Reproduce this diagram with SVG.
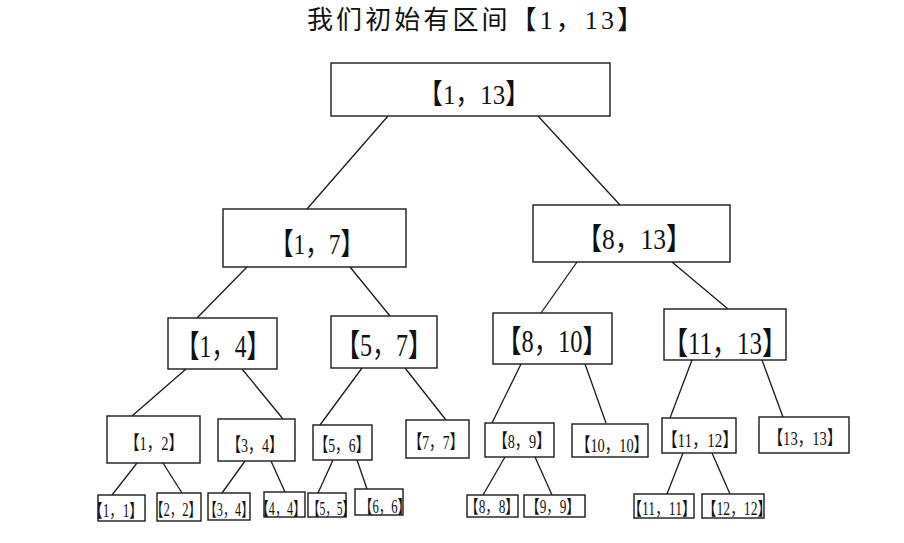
<svg xmlns="http://www.w3.org/2000/svg" width="904" height="543" viewBox="0 0 904 543">
<style>
.bg{fill:#fff}
.n rect{fill:#fff;stroke:#1a1a1a;stroke-width:1.4}
.e line{stroke:#1a1a1a;stroke-width:1.3}
text{font-family:"Liberation Serif","Noto Sans CJK SC",serif;fill:#111;text-anchor:middle}
.t{font-size:26px}
.l0{font-size:28px}
.l1{font-size:30px}
.l3{font-size:31px}
.l4{font-size:19px}
.lf{font-size:18px}
</style>
<rect class="bg" x="0" y="0" width="904" height="543"/>
<text id="title" class="t" x="475" y="29" textLength="336">我们初始有区间【1，13】</text>
<g id="edges" class="e">
<line x1="388" y1="116" x2="307" y2="209"/>
<line x1="538" y1="116" x2="620" y2="205"/>
<line x1="247" y1="267" x2="197" y2="318"/>
<line x1="350" y1="267" x2="390" y2="316"/>
<line x1="577" y1="262" x2="541" y2="313"/>
<line x1="672" y1="262" x2="728" y2="309"/>
<line x1="186" y1="369" x2="132" y2="416"/>
<line x1="242" y1="369" x2="283" y2="419"/>
<line x1="362" y1="368" x2="320" y2="425"/>
<line x1="405" y1="368" x2="446" y2="420"/>
<line x1="521" y1="364" x2="492" y2="423"/>
<line x1="585" y1="364" x2="606" y2="423"/>
<line x1="692" y1="360" x2="670" y2="418"/>
<line x1="762" y1="360" x2="783" y2="417"/>
<line x1="137" y1="463" x2="112" y2="495"/>
<line x1="163" y1="463" x2="182" y2="493"/>
<line x1="245" y1="461" x2="222" y2="493"/>
<line x1="271" y1="461" x2="285" y2="492"/>
<line x1="333" y1="460" x2="318" y2="493"/>
<line x1="357" y1="460" x2="367" y2="489"/>
<line x1="505" y1="457" x2="483" y2="495"/>
<line x1="535" y1="457" x2="552" y2="495"/>
<line x1="683" y1="453" x2="667" y2="494"/>
<line x1="712" y1="453" x2="730" y2="494"/>
</g>
<g id="n1_13" class="n"><rect x="331" y="63" width="279" height="53"/><text class="l0" x="474" y="104" textLength="112" lengthAdjust="spacingAndGlyphs">【1，13】</text></g>
<g id="n1_7" class="n"><rect x="223" y="209" width="183" height="58"/><text class="l1" x="317" y="254" textLength="94" lengthAdjust="spacingAndGlyphs">【1，7】</text></g>
<g id="n8_13" class="n"><rect x="533" y="205" width="197" height="57"/><text class="l1" x="634" y="249" textLength="115" lengthAdjust="spacingAndGlyphs">【8，13】</text></g>
<g id="n1_4" class="n"><rect x="168" y="318" width="109" height="51"/><text class="l3" x="223" y="357" textLength="94" lengthAdjust="spacingAndGlyphs">【1，4】</text></g>
<g id="n5_7" class="n"><rect x="331" y="316" width="106" height="52"/><text class="l3" x="384" y="356" textLength="96" lengthAdjust="spacingAndGlyphs">【5，7】</text></g>
<g id="n8_10" class="n"><rect x="493" y="313" width="119" height="51"/><text class="l3" x="552" y="352" textLength="110" lengthAdjust="spacingAndGlyphs">【8，10】</text></g>
<g id="n11_13" class="n"><rect x="664" y="309" width="122" height="51"/><text class="l3" x="725" y="354" textLength="124" lengthAdjust="spacingAndGlyphs">【11，13】</text></g>
<g id="n1_2" class="n"><rect x="107" y="416" width="93" height="47"/><text class="l4" x="154" y="450" textLength="58" lengthAdjust="spacingAndGlyphs">【1，2】</text></g>
<g id="n3_4" class="n"><rect x="218" y="419" width="77" height="42"/><text class="l4" x="255" y="452" textLength="56" lengthAdjust="spacingAndGlyphs">【3，4】</text></g>
<g id="n5_6" class="n"><rect x="313" y="425" width="59" height="35"/><text class="l4" x="342" y="452" textLength="55" lengthAdjust="spacingAndGlyphs">【5，6】</text></g>
<g id="n7_7" class="n"><rect x="406" y="420" width="63" height="38"/><text class="l4" x="436" y="449" textLength="55" lengthAdjust="spacingAndGlyphs">【7，7】</text></g>
<g id="n8_9" class="n"><rect x="485" y="423" width="69" height="34"/><text class="l4" x="522" y="448" textLength="57" lengthAdjust="spacingAndGlyphs">【8，9】</text></g>
<g id="n10_10" class="n"><rect x="572" y="424" width="76" height="33"/><text class="l4" x="612" y="452" textLength="72" lengthAdjust="spacingAndGlyphs">【10，10】</text></g>
<g id="n11_12" class="n"><rect x="662" y="418" width="74" height="35"/><text class="l4" x="700" y="447" textLength="75" lengthAdjust="spacingAndGlyphs">【11，12】</text></g>
<g id="n13_13" class="n"><rect x="759" y="417" width="90" height="36"/><text class="l4" x="805" y="445" textLength="73" lengthAdjust="spacingAndGlyphs">【13，13】</text></g>
<g id="n1_1" class="n"><rect x="98" y="495" width="47" height="26"/><text class="lf" transform="translate(116 517) scale(0.74 1)">【1，1】</text></g>
<g id="n2_2" class="n"><rect x="157" y="493" width="44" height="28"/><text class="lf" transform="translate(176 516) scale(0.7 1)">【2，2】</text></g>
<g id="n3_4b" class="n"><rect x="208" y="493" width="42" height="27"/><text class="lf" transform="translate(229 516) scale(0.68 1)">【3，4】</text></g>
<g id="n4_4" class="n"><rect x="264" y="492" width="41" height="25"/><text class="lf" transform="translate(281 515) scale(0.68 1)">【4，4】</text></g>
<g id="n5_5" class="n"><rect x="308" y="493" width="38" height="24"/><text class="lf" transform="translate(331 515) scale(0.64 1)">【5，5】</text></g>
<g id="n6_6" class="n"><rect x="355" y="489" width="48" height="26"/><text class="lf" transform="translate(385 513) scale(0.7 1)">【6，6】</text></g>
<g id="n8_8" class="n"><rect x="467" y="495" width="51" height="22"/><text class="lf" transform="translate(492 513) scale(0.74 1)">【8，8】</text></g>
<g id="n9_9" class="n"><rect x="524" y="495" width="61" height="22"/><text class="lf" transform="translate(553 513) scale(0.74 1)">【9，9】</text></g>
<g id="n11_11" class="n"><rect x="634" y="494" width="60" height="24"/><text class="lf" transform="translate(662 515) scale(0.76 1)">【11，11】</text></g>
<g id="n12_12" class="n"><rect x="702" y="494" width="62" height="24"/><text class="lf" transform="translate(737 515) scale(0.76 1)">【12，12】</text></g>
</svg>
